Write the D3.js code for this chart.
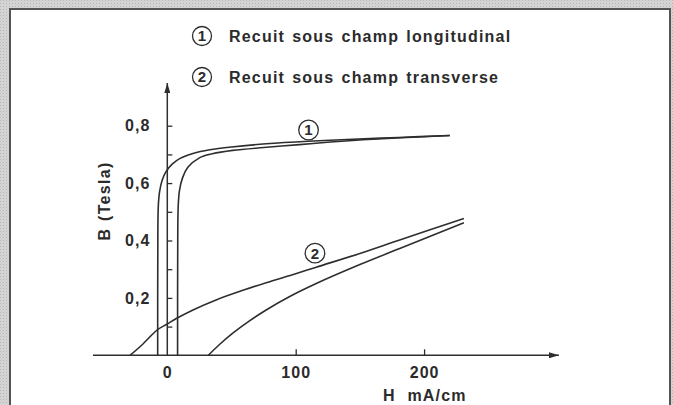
<!DOCTYPE html>
<html>
<head>
<meta charset="utf-8">
<script src="https://cdn.jsdelivr.net/npm/d3@7"></script>
<style>
  html, body { margin: 0; padding: 0; background: #fff; }
  svg { display: block; }
  text { font-family: "Liberation Sans", Arial, sans-serif; font-weight: bold; fill: #2b2b2b; }
</style>
</head>
<body>
<svg id="chart" width="673" height="405"></svg>
<script>
// curve 1 : recuit sous champ longitudinal (two branches of the loop)
const long_up_H = [-7.5, -7.4, -7.0, -6.0, -4.0, -1.0, 4, 10, 20, 33, 50, 77, 110, 140, 180, 220];
const long_up_B = [0, 0.35, 0.52, 0.57, 0.61, 0.64, 0.667, 0.686, 0.703, 0.716, 0.726, 0.737, 0.746, 0.752, 0.759, 0.766];
const long_dn_H = [8, 8.1, 8.5, 9.5, 12, 16, 25, 35, 51, 75, 103, 127, 160, 220];
const long_dn_B = [0, 0.35, 0.52, 0.575, 0.62, 0.655, 0.688, 0.702, 0.714, 0.724, 0.734, 0.743, 0.753, 0.766];

// curve 2 : recuit sous champ transverse
const trans_up_H = [-29, -20, -8, 0, 7, 20, 38, 60, 77, 100, 116, 150, 181, 231];
const trans_up_B = [0, 0.035, 0.088, 0.109, 0.128, 0.158, 0.193, 0.228, 0.253, 0.284, 0.307, 0.355, 0.402, 0.477];
const trans_dn_H = [32, 40, 51, 64, 77, 95, 116, 150, 181, 231];
const trans_dn_B = [0, 0.035, 0.077, 0.12, 0.158, 0.204, 0.25, 0.316, 0.372, 0.462];

const xTicks = [0, 100, 200];
const yTicks = [0.1, 0.2, 0.3, 0.4, 0.5, 0.6, 0.7, 0.8];
const yLabelled = [0.2, 0.4, 0.6, 0.8];

const legendItems = ["Recuit sous champ longitudinal", "Recuit sous champ transverse"];
const curveLabels = [{n: "1", H: 110, B: 0.785}, {n: "2", H: 115, B: 0.356}];

const ink = "#2e2e2e";
const svg = d3.select("#chart");

// grey halftone surround + white panel
const defs = svg.append("defs");
const pat = defs.append("pattern").attr("id", "halftone")
  .attr("width", 3).attr("height", 3).attr("patternUnits", "userSpaceOnUse");
pat.append("rect").attr("width", 3).attr("height", 3).attr("fill", "#d6d6d6");
pat.append("rect").attr("width", 1).attr("height", 1).attr("fill", "#b4b4b4");
pat.append("rect").attr("x", 1.5).attr("y", 1.5).attr("width", 1).attr("height", 1).attr("fill", "#c2c2c2");

svg.append("rect").attr("width", 673).attr("height", 405).attr("fill", "url(#halftone)");
svg.append("rect").attr("x", 10).attr("y", 9).attr("width", 660).attr("height", 410)
  .attr("fill", "#fff").attr("stroke", "#555").attr("stroke-width", 2);

const x = d3.scaleLinear().domain([0, 200]).range([167.3, 424.1]);
const y = d3.scaleLinear().domain([0, 0.8]).range([355.3, 125.7]);

// arrow markers
defs.append("marker").attr("id", "arrow")
  .attr("viewBox", "0 0 10 6").attr("refX", 10).attr("refY", 3)
  .attr("markerWidth", 10).attr("markerHeight", 6).attr("markerUnits", "userSpaceOnUse")
  .attr("orient", "auto")
  .append("path").attr("d", "M0,0L10,3L0,6Z").attr("fill", ink);

// axis lines
svg.append("line")
  .attr("x1", x(-57.9)).attr("x2", x(305)).attr("y1", y(0)).attr("y2", y(0))
  .attr("stroke", ink).attr("stroke-width", 1.5).attr("marker-end", "url(#arrow)");
svg.append("line")
  .attr("x1", x(0)).attr("x2", x(0)).attr("y1", y(0)).attr("y2", y(0.949))
  .attr("stroke", ink).attr("stroke-width", 1.5).attr("marker-end", "url(#arrow)");

// y ticks
const yAxis = d3.axisLeft(y).tickValues(yTicks).tickSizeInner(-5).tickSizeOuter(0).tickPadding(17)
  .tickFormat(d => yLabelled.some(v => Math.abs(v - d) < 1e-9) ? d3.format(".1f")(d).replace(".", ",") : "");
const gy = svg.append("g").attr("transform", `translate(${x(0)},0)`).call(yAxis);
gy.select(".domain").remove();
gy.selectAll(".tick line").attr("stroke", ink).attr("stroke-width", 1.3);
gy.selectAll(".tick text").attr("font-size", 16).attr("letter-spacing", "1px")
  .attr("font-family", null).attr("fill", null);

// x ticks
const xAxis = d3.axisBottom(x).tickValues(xTicks).tickSizeInner(-6).tickSizeOuter(0).tickPadding(11)
  .tickFormat(d3.format("d"));
const gx = svg.append("g").attr("transform", `translate(0,${y(0)})`).call(xAxis);
gx.select(".domain").remove();
gx.selectAll(".tick line").attr("stroke", ink).attr("stroke-width", 1.3)
  .attr("display", d => d === 0 ? "none" : null);
gx.selectAll(".tick text").attr("font-size", 16).attr("letter-spacing", "1px")
  .attr("font-family", null).attr("fill", null);

// axis titles
svg.append("text")
  .attr("transform", "translate(110,201) rotate(-90)")
  .attr("text-anchor", "middle").attr("font-size", 16).attr("letter-spacing", "1.3px")
  .attr("word-spacing", "1px")
  .text("B (Tesla)");
svg.append("text")
  .attr("x", 383).attr("y", 401).attr("font-size", 16).attr("letter-spacing", "1.2px")
  .attr("word-spacing", "6px")
  .text("H mA/cm");

// curves
const line = d3.line().x(d => x(d[0])).y(d => y(d[1])).curve(d3.curveCatmullRom.alpha(0.5));
const series = [
  [long_up_H, long_up_B], [long_dn_H, long_dn_B],
  [trans_up_H, trans_up_B], [trans_dn_H, trans_dn_B]
];
svg.append("g").selectAll("path")
  .data(series.map(s => d3.zip(s[0], s[1])))
  .join("path")
  .attr("d", line)
  .attr("fill", "none").attr("stroke", ink).attr("stroke-width", 1.6);

// circled numbers
function circled(g, cx, cy, r, n) {
  g.append("circle").attr("cx", cx).attr("cy", cy).attr("r", r)
    .attr("fill", "#fff").attr("stroke", ink).attr("stroke-width", 1.3);
  g.append("text").attr("x", cx).attr("y", cy).attr("dy", "0.36em")
    .attr("text-anchor", "middle").attr("font-size", 15).text(n);
}

curveLabels.forEach(c => circled(svg.append("g"), x(c.H), y(c.B), 9.8, c.n));

// legend
legendItems.forEach((t, i) => {
  const cy = 36 + i * 41;
  const g = svg.append("g");
  circled(g, 202, cy, 9.5, String(i + 1));
  g.append("text").attr("x", 229).attr("y", cy + 5.5)
    .attr("font-size", 16).attr("letter-spacing", "1.2px").attr("word-spacing", "1.5px")
    .text(t);
});
</script>
</body>
</html>
